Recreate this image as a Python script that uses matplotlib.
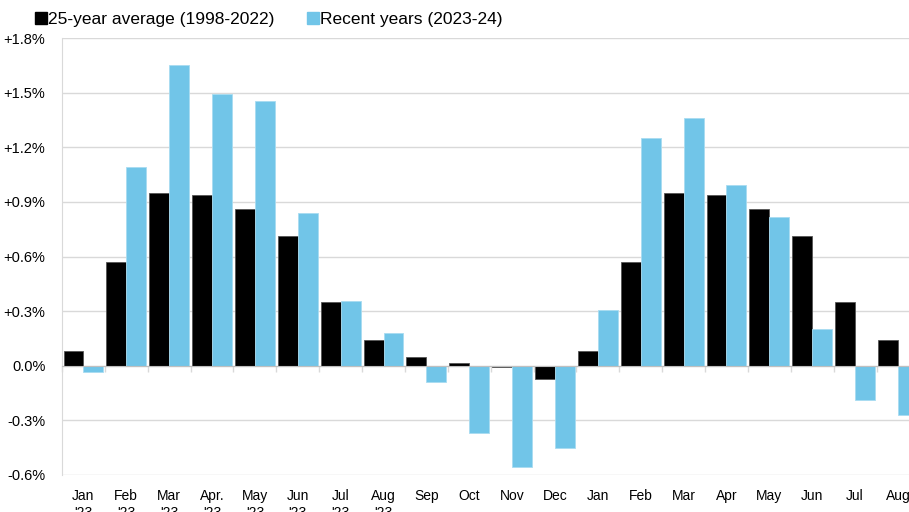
import matplotlib.pyplot as plt
from matplotlib.lines import Line2D
import numpy as np

plt.rcParams['font.family'] = ['Liberation Sans', 'DejaVu Sans']

months = ['Jan', 'Feb', 'Mar', 'Apr.', 'May', 'Jun', 'Jul', 'Aug',
          'Sep', 'Oct', 'Nov', 'Dec',
          'Jan', 'Feb', 'Mar', 'Apr', 'May', 'Jun', 'Jul', 'Aug']
years = ["'23"] * 8 + [''] * 12

# average monthly change, 1998-2022 (%)
avg_25yr = [0.08, 0.57, 0.95, 0.94, 0.86, 0.71, 0.35, 0.14,
            0.05, 0.015, -0.005, -0.075,
            0.08, 0.57, 0.95, 0.94, 0.86, 0.71, 0.35, 0.14]
# monthly change, 2023-24 (%)
recent = [-0.035, 1.09, 1.65, 1.49, 1.455, 0.84, 0.355, 0.18,
          -0.09, -0.37, -0.555, -0.45,
          0.305, 1.25, 1.36, 0.99, 0.815, 0.20, -0.19, -0.27]

yticks = [-0.6, -0.3, 0.0, 0.3, 0.6, 0.9, 1.2, 1.5, 1.8]

BLACK = '#000000'
BLUE = '#71C5E8'
GRID = '#d9d9d9'

fig = plt.figure(figsize=(9.09, 5.12), dpi=100)
ax = fig.add_axes([62 / 909, 37 / 512, 857.4 / 909, 437 / 512])

x = np.arange(len(months)) + 0.5
w = 0.465
ax.bar(x - w / 2, avg_25yr, w, color=BLACK, edgecolor='#555555', linewidth=0.6, zorder=3)
ax.bar(x + w / 2, recent, w, color=BLUE, edgecolor='#a8dcf1', linewidth=0.6, zorder=3)

ax.set_xlim(0, len(months))
ax.set_ylim(-0.6, 1.8)

ax.set_yticks(yticks)
ax.set_yticklabels(['0.0%' if v == 0 else f'{v:+.1f}%' for v in yticks], fontsize=10.5)
ax.tick_params(axis='y', length=0, pad=12)
ax.grid(axis='y', color=GRID, linewidth=1, zorder=0)

# category axis sits on the zero line, labels stay at the bottom
ax.spines['bottom'].set_position(('data', 0))
ax.spines['bottom'].set_color('#bfbfbf')
ax.spines['bottom'].set_zorder(4)
ax.spines['left'].set_color(GRID)
ax.spines['top'].set_visible(False)
ax.spines['right'].set_visible(False)
ax.set_xticks(np.arange(len(months) + 1))
ax.set_xticklabels([])
ax.tick_params(axis='x', length=4, color=GRID, width=1)

xt = ax.get_xaxis_transform()
for xi, m, yr in zip(x, months, years):
    ax.text(xi, -0.032, m + ('\n' + yr if yr else ''), transform=xt,
            ha='center', va='top', fontsize=10, linespacing=1.25, clip_on=False)

handles = [Line2D([], [], marker='s', linestyle='', color=BLACK, markersize=8),
           Line2D([], [], marker='s', linestyle='', color=BLUE, markersize=8)]
fig.legend(handles, ['25-year average (1998-2022)', 'Recent years (2023-24)'],
           loc='center left', bbox_to_anchor=(0.04, 0.962), ncol=2, frameon=False,
           fontsize=12.5, handlelength=0.5, handletextpad=0.15, columnspacing=2.0,
           borderpad=0, borderaxespad=0)

fig.savefig('out.png', dpi=100)
